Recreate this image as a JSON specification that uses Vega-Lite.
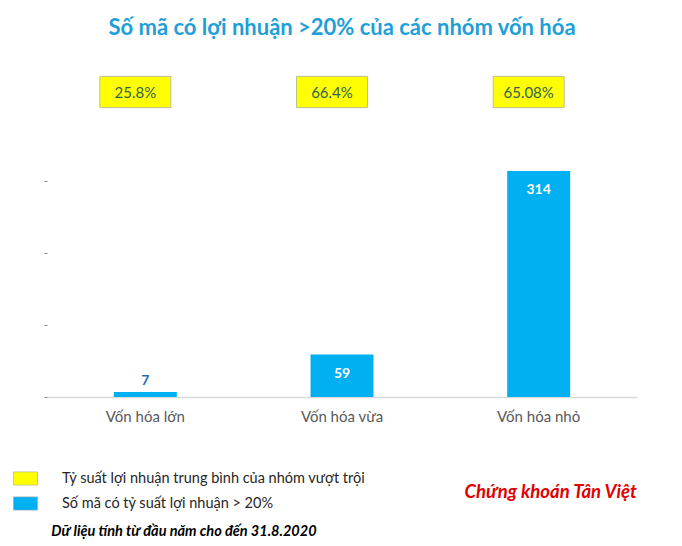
{
  "$schema": "https://vega.github.io/schema/vega-lite/v6.json",
  "autosize": {"type": "none"},
  "padding": {"left": 47, "top": 145, "right": 45, "bottom": 149},
  "width": 590,
  "height": 252,
  "background": "white",
  "title": {
    "text": "Số mã có lợi nhuận >20% của các nhóm vốn hóa",
    "font": "Lato",
    "fontSize": 22,
    "fontWeight": "bold",
    "color": "#1E9FD8",
    "anchor": "middle",
    "offset": 34
  },
  "datasets": {
    "main": [
      {"group": "Vốn hóa lớn", "count": 7, "pct": "25.8%"},
      {"group": "Vốn hóa vừa", "count": 59, "pct": "66.4%"},
      {"group": "Vốn hóa nhỏ", "count": 314, "pct": "65.08%"}
    ],
    "notes": [
      {"label": "Chứng khoán Tân Việt"}
    ],
    "source": [
      {"label": "Dữ liệu tính từ đầu năm cho đến 31.8.2020"}
    ]
  },
  "data": {"name": "main"},
  "encoding": {
    "x": {
      "field": "group", "type": "nominal", "sort": null,
      "scale": {"paddingInner": 0.68, "paddingOuter": 0.34},
      "axis": {
        "title": null, "labelAngle": 0, "ticks": false,
        "domainColor": "#D9D9D9", "domainWidth": 1.5,
        "labelColor": "#595959", "labelFont": "Lato", "labelFontSize": 15,
        "labelPadding": 12
      }
    }
  },
  "layer": [
    {
      "mark": {"type": "bar"},
      "encoding": {
        "y": {
          "field": "count", "type": "quantitative",
          "scale": {"domain": [0, 350], "nice": false},
          "axis": {
            "values": [0, 50, 100, 150, 200, 250, 300, 350],
            "labels": true, "labelOpacity": 0, "labelFontSize": 1, "labelOverlap": false,
            "domain": false, "grid": false,
            "ticks": true, "tickSize": 3, "tickWidth": 1, "tickColor": "#8C8C8C", "title": null
          }
        },
        "color": {
          "datum": "Số mã có tỷ suất lợi nhuận > 20%",
          "type": "nominal",
          "scale": {
            "domain": ["Tỷ suất lợi nhuận trung bình của nhóm vượt trội", "Số mã có tỷ suất lợi nhuận > 20%"],
            "range": ["#FFFF00", "#00B0F0"]
          },
          "legend": {
            "title": null,
            "orient": "none",
            "legendX": -34,
            "legendY": 321,
            "direction": "vertical",
            "symbolType": "M-1,-0.55H1V0.55H-1Z",
            "symbolSize": 576,
            "symbolStrokeColor": "#A6A6A6",
            "symbolStrokeWidth": 0.6,
            "symbolOpacity": 1,
            "labelFont": "Lato",
            "labelFontSize": 14.5,
            "labelColor": "#262626",
            "labelOffset": 24,
            "rowPadding": 4,
            "labelLimit": 500
          }
        }
      }
    },
    {
      "mark": {
        "type": "point", "shape": "M-1,-0.44H1V0.44H-1Z", "size": 5041,
        "filled": true, "fill": "#FFFF00", "stroke": "#BFBF8F", "strokeWidth": 1,
        "opacity": 1, "xOffset": -10, "yOffset": -53
      },
      "encoding": {"y": {"datum": 350}}
    },
    {
      "mark": {
        "type": "text", "font": "Lato", "fontSize": 15, "color": "#2F5F4F",
        "xOffset": -10, "yOffset": -52
      },
      "encoding": {"y": {"datum": 350}, "text": {"field": "pct"}}
    },
    {
      "transform": [{"filter": "datum.count < 20"}],
      "mark": {"type": "text", "font": "Lato", "fontSize": 14, "fontWeight": "bold", "color": "#1F6FB5", "dy": -11},
      "encoding": {"y": {"field": "count", "type": "quantitative"}, "text": {"field": "count"}}
    },
    {
      "transform": [{"filter": "datum.count >= 20"}],
      "mark": {"type": "text", "font": "Lato", "fontSize": 14, "fontWeight": "bold", "color": "white", "dy": 19},
      "encoding": {"y": {"field": "count", "type": "quantitative"}, "text": {"field": "count"}}
    },
    {
      "data": {"name": "notes"},
      "mark": {"type": "text", "font": "Lato", "fontSize": 18.5, "fontWeight": "bold", "fontStyle": "italic", "color": "#E00000", "xOffset": 12, "yOffset": 95},
      "encoding": {"x": {"datum": "Vốn hóa nhỏ"}, "y": {"datum": 0}, "text": {"field": "label"}}
    },
    {
      "data": {"name": "source"},
      "mark": {"type": "text", "font": "Lato", "fontSize": 14.5, "fontWeight": "bold", "fontStyle": "italic", "color": "#000000", "align": "left", "xOffset": -94, "yOffset": 135},
      "encoding": {"x": {"datum": "Vốn hóa lớn"}, "y": {"datum": 0}, "text": {"field": "label"}}
    }
  ],
  "config": {"view": {"stroke": null}}
}
